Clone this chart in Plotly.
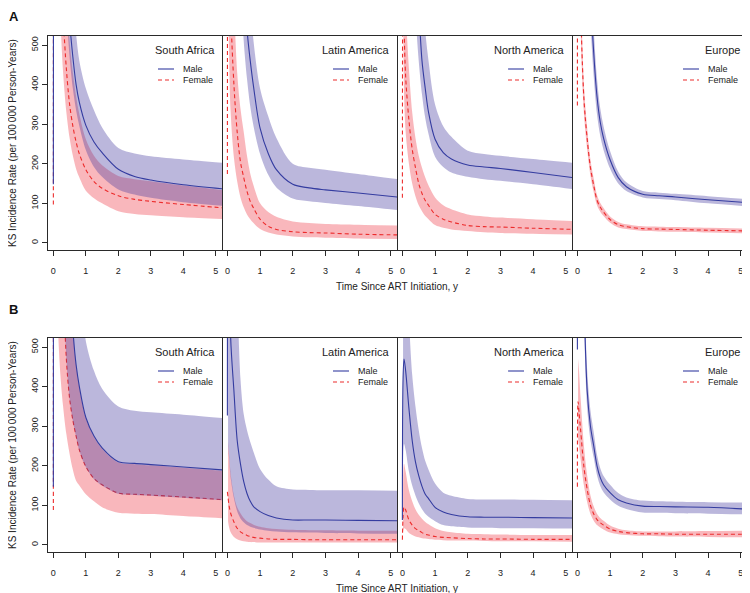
import plotly.graph_objects as go

N = None
T = [0, 0.02, 0.05, 0.1, 0.2, 0.3, 0.4, 0.5, 0.6, 0.7, 0.8, 1.0, 1.25, 1.5, 2.0, 2.5, 3.0, 4.0, 5.3]
REGIONS = ["South Africa", "Latin America", "North America", "Europe"]
X_TICKS = [0, 1, 2, 3, 4, 5]
Y_TICKS = [0, 100, 200, 300, 400, 500]

# ---------------- Panel A ----------------
A_SA_M   = [148, 3000, 2600, 2000, 1300, 900, 700, 560, 470, 400, 355, 297, 255, 228, 186, 168, 159, 147, 136]
A_SA_Mhi = [N, 5000, 4000, 3200, 2000, 1350, 1000, 780, 620, 527, 460, 390, 335, 292, 240, 226, 219, 211, 202]
A_SA_Mlo = [N, 2500, 2000, 1600, 1100, 780, 590, 470, 390, 335, 295, 235, 192, 167, 135, 122, 114, 103, 93]
A_SA_F   = [97, 2500, 2000, 1400, 850, 580, 440, 350, 295, 255, 225, 185, 155, 138, 119, 110, 105, 97, 88]
A_SA_Fhi = [N, 3500, 2800, 2000, 1200, 800, 620, 510, 430, 370, 325, 262, 220, 196, 169, 161, 156, 145, 133]
A_SA_Flo = [N, 1500, 1300, 900, 600, 430, 330, 265, 220, 187, 165, 132, 113, 100, 80, 73, 70, 65, 60]

A_LA_M   = [N, 5000, 4000, 3000, 1800, 1200, 900, 700, 540, 460, 395, 290, 226, 185, 148, 139, 134, 126, 115]
A_LA_Mhi = [N, 7000, 5500, 4000, 2500, 1700, 1250, 950, 730, 610, 510, 390, 320, 265, 200, 190, 185, 174, 160]
A_LA_Mlo = [N, 3500, 2800, 2000, 1300, 900, 680, 510, 415, 345, 295, 225, 172, 140, 112, 105, 101, 93, 82]
A_LA_F   = [174, 2000, 1100, 600, 400, 280, 205, 165, 130, 105, 88, 60, 42, 34, 28, 26, 25, 22, 20]
A_LA_Fhi = [N, 3000, 1800, 1000, 620, 430, 340, 280, 220, 175, 145, 100, 78, 66, 54, 50, 48, 46, 44]
A_LA_Flo = [N, 650, 480, 330, 215, 155, 115, 90, 72, 60, 50, 35, 26, 21, 16, 14, 13, 11, 10]

A_NA_M   = [N, 5000, 4000, 3000, 1700, 1100, 780, 600, 460, 390, 330, 262, 228, 212, 197, 192, 188, 178, 164]
A_NA_Mhi = [N, 7000, 5500, 4000, 2400, 1500, 1080, 820, 660, 535, 460, 350, 295, 268, 233, 225, 220, 212, 202]
A_NA_Mlo = [N, 3500, 2800, 2000, 1100, 760, 580, 460, 375, 315, 275, 218, 192, 178, 167, 161, 157, 148, 135]
A_NA_F   = [114, 1200, 560, 420, 310, 237, 190, 150, 125, 107, 95, 72, 60, 53, 44, 41, 40, 37, 34]
A_NA_Fhi = [N, 2000, 900, 600, 440, 330, 265, 220, 190, 165, 145, 115, 95, 85, 72, 67, 64, 60, 55]
A_NA_Flo = [N, 700, 380, 280, 200, 150, 118, 95, 80, 68, 60, 45, 38, 34, 30, 27, 25, 23, 21]

A_EU_M   = [N, 6000, 4500, 3300, 1600, 1000, 640, 480, 370, 305, 265, 210, 165, 142, 123, 119, 116, 109, 101]
A_EU_Mhi = [N, 6600, 5000, 3700, 1800, 1120, 720, 540, 415, 340, 295, 232, 180, 153, 131, 127, 124, 118, 110]
A_EU_Mlo = [N, 5400, 4000, 2900, 1400, 880, 560, 420, 325, 270, 235, 188, 150, 131, 115, 111, 108, 100, 92]
A_EU_F   = [347, 2500, 1200, 610, 364, 263, 190, 145, 108, 90, 78, 59, 46, 41, 36, 35, 34, 32, 30]
A_EU_Fhi = [N, 2800, 1350, 680, 400, 290, 210, 162, 121, 101, 88, 67, 53, 47, 42, 41, 40, 38, 36]
A_EU_Flo = [N, 2200, 1050, 540, 328, 236, 170, 128, 95, 79, 68, 51, 39, 35, 30, 29, 28, 26, 24]

# ---------------- Panel B ----------------
B_SA_M   = [147, 5000, 4000, 3000, 1800, 1200, 880, 700, 545, 455, 400, 322, 275, 245, 210, 206, 203, 197, 189]
B_SA_Mhi = [N, 8000, 7000, 5500, 3500, 2300, 1650, 1250, 980, 800, 680, 515, 440, 395, 350, 339, 335, 329, 320]
B_SA_Mlo = [N, 3500, 2800, 2000, 1100, 680, 470, 368, 313, 273, 238, 196, 166, 150, 129, 126, 124, 119, 112]
B_SA_F   = [88, 3500, 2800, 2000, 1100, 680, 470, 370, 315, 275, 240, 198, 168, 152, 131, 128, 126, 121, 114]
B_SA_Fhi = [N, 5000, 4000, 3000, 1800, 1200, 880, 700, 545, 455, 398, 320, 273, 243, 208, 204, 201, 195, 187]
B_SA_Flo = [N, 1500, 1000, 650, 450, 350, 280, 230, 190, 162, 150, 128, 110, 95, 81, 79, 78, 73, 67]

B_LA_M   = [327, 2000, 900, 524, 389, 264, 205, 160, 130, 110, 97, 84, 74, 68, 63, 63, 63, 62, 61]
B_LA_Mhi = [N, 5000, 3000, 1800, 1000, 650, 420, 330, 290, 260, 235, 192, 165, 148, 140, 139, 138, 138, 137]
B_LA_Mlo = [N, 250, 220, 170, 118, 85, 67, 57, 50, 46, 43, 39, 36, 34, 32, 31, 30, 29, 28]
B_LA_F   = [134, 120, 100, 80, 58, 42, 33, 28, 24, 21, 19, 17, 15, 14, 14, 13, 13, 13, 13]
B_LA_Fhi = [N, 260, 230, 180, 125, 95, 80, 68, 60, 55, 51, 46, 42, 40, 38, 37, 37, 36, 36]
B_LA_Flo = [N, 60, 45, 32, 20, 14, 11, 9, 8, 7, 7, 6, 6, 6, 6, 6, 6, 6, 6]

B_NA_M   = [63, 420, 470, 440, 345, 264, 210, 175, 148, 128, 117, 95, 83, 77, 71, 70, 70, 69, 68]
B_NA_Mhi = [N, 900, 1100, 950, 580, 430, 350, 290, 245, 212, 190, 155, 132, 124, 116, 115, 115, 114, 113]
B_NA_Mlo = [N, 180, 255, 240, 185, 150, 125, 105, 90, 79, 71, 60, 50, 47, 44, 43, 42, 42, 41]
B_NA_F   = [13, 70, 96, 88, 63, 50, 41, 36, 31, 27, 25, 21, 19, 18, 16, 15, 15, 14, 14]
B_NA_Fhi = [N, 150, 205, 185, 138, 110, 90, 76, 66, 58, 52, 42, 35, 32, 28, 27, 26, 25, 25]
B_NA_Flo = [N, 30, 42, 40, 30, 25, 21, 19, 17, 16, 15, 13, 12, 11, 11, 10, 9, 9, 8]

B_EU_M   = [494, 6000, 3000, 1500, 650, 389, 300, 250, 200, 170, 152, 132, 114, 106, 98, 97, 96, 95, 90]
B_EU_Mhi = [N, 6600, 3300, 1700, 720, 440, 340, 285, 228, 194, 174, 152, 131, 120, 112, 110, 109, 108, 107]
B_EU_Mlo = [N, 5400, 2700, 1350, 580, 345, 265, 220, 176, 149, 133, 115, 99, 91, 82, 81, 80, 79, 77]
B_EU_F   = [147, 362, 335, 289, 197, 140, 100, 78, 64, 56, 50, 40, 34, 31, 28, 28, 27, 27, 27]
B_EU_Fhi = [N, 470, 440, 370, 250, 175, 125, 97, 79, 68, 61, 49, 41, 37, 34, 34, 34, 35, 36]
B_EU_Flo = [N, 270, 250, 215, 150, 108, 78, 61, 50, 44, 39, 31, 27, 25, 23, 22, 21, 20, 19]

PANELS = [
    [(A_SA_M, A_SA_Mhi, A_SA_Mlo, A_SA_F, A_SA_Fhi, A_SA_Flo),
     (A_LA_M, A_LA_Mhi, A_LA_Mlo, A_LA_F, A_LA_Fhi, A_LA_Flo),
     (A_NA_M, A_NA_Mhi, A_NA_Mlo, A_NA_F, A_NA_Fhi, A_NA_Flo),
     (A_EU_M, A_EU_Mhi, A_EU_Mlo, A_EU_F, A_EU_Fhi, A_EU_Flo)],
    [(B_SA_M, B_SA_Mhi, B_SA_Mlo, B_SA_F, B_SA_Fhi, B_SA_Flo),
     (B_LA_M, B_LA_Mhi, B_LA_Mlo, B_LA_F, B_LA_Fhi, B_LA_Flo),
     (B_NA_M, B_NA_Mhi, B_NA_Mlo, B_NA_F, B_NA_Fhi, B_NA_Flo),
     (B_EU_M, B_EU_Mhi, B_EU_Mlo, B_EU_F, B_EU_Fhi, B_EU_Flo)],
]

# ---------------- Styling / geometry ----------------
# the page body adds an 8px margin, so the figure is 8px smaller and all
# reference-pixel positions are mapped through px()/py() below
FONT = "Liberation Sans, Arial, sans-serif"
OFF = 8
W, H = 750 - OFF, 593 - OFF
ML, MR, MT, MB = 48 - OFF, 3, 36 - OFF, 41
PW, PH = W - ML - MR, H - MT - MB
COL_PX = [48, 222, 397, 572, 747]
ROW_PX = [(36, 250), (338, 552)]
X_RANGE = [-0.165, 5.19]
Y_RANGE = [-18, 523]

M_LINE = "rgb(52,60,160)"
F_LINE = "rgb(236,44,44)"
M_BAND = "rgba(70,60,160,0.37)"
F_BAND = "rgba(238,60,72,0.37)"
DASH = "4px,3px"
AX = "#2a2a2a"


def px(xr):
    return (xr - OFF - ML) / PW


def py(yr):
    return (H - MB - (yr - OFF)) / PH


def clean(ts, vs):
    xs, ys = [], []
    for t, v in zip(ts, vs):
        if v is not None:
            xs.append(t)
            ys.append(v)
    return xs, ys


fig = go.Figure()
layout = dict(
    width=W, height=H,
    margin=dict(l=ML, r=MR, t=MT, b=MB),
    paper_bgcolor="white", plot_bgcolor="white",
    showlegend=False,
    font=dict(family=FONT, size=9, color="#222222"),
)
annotations = []
shapes = []

for r in range(2):
    top, bot = ROW_PX[r]
    for c in range(4):
        idx = r * 4 + c + 1
        xn = "x" if idx == 1 else f"x{idx}"
        yn = "y" if idx == 1 else f"y{idx}"
        m, mhi, mlo, f, fhi, flo = PANELS[r][c]

        def add(vals, **kw):
            xs, ys = clean(T, vals)
            fig.add_trace(go.Scatter(x=xs, y=ys, xaxis=xn, yaxis=yn, mode="lines",
                                     hoverinfo="skip", **kw))

        # female band, female line, male band, male line
        add(flo, line=dict(width=0, shape="spline", smoothing=0.9))
        add(fhi, line=dict(width=0, shape="spline", smoothing=0.9), fill="tonexty", fillcolor=F_BAND)
        add(f, line=dict(width=1.1, color=F_LINE, dash=DASH, shape="spline", smoothing=0.9))
        add(mlo, line=dict(width=0, shape="spline", smoothing=0.9))
        add(mhi, line=dict(width=0, shape="spline", smoothing=0.9), fill="tonexty", fillcolor=M_BAND)
        add(m, line=dict(width=1.1, color=M_LINE, shape="spline", smoothing=0.9))

        xa = "xaxis" if idx == 1 else f"xaxis{idx}"
        ya = "yaxis" if idx == 1 else f"yaxis{idx}"
        layout[xa] = dict(
            domain=[px(COL_PX[c]), px(COL_PX[c + 1])], range=X_RANGE, anchor=yn,
            tickmode="array", tickvals=X_TICKS, ticks="outside", ticklen=5, tickwidth=1,
            tickcolor=AX, showline=True, mirror=True, linecolor=AX, linewidth=1,
            showgrid=False, zeroline=False, tickfont=dict(size=9, color="#222222"),
            ticklabelstandoff=7,
        )
        if c == 0:
            layout[ya] = dict(
                domain=[py(bot), py(top)], range=Y_RANGE, anchor=xn,
                tickmode="array", tickvals=Y_TICKS, ticks="outside", ticklen=5, tickwidth=1,
                tickcolor=AX, showticklabels=True, tickangle=-90,
                showline=True, mirror=True, linecolor=AX, linewidth=1,
                showgrid=False, zeroline=False, tickfont=dict(size=9, color="#222222"),
            )
        else:
            # left border is already drawn by the neighbouring panel
            layout[ya] = dict(
                domain=[py(bot), py(top)], range=Y_RANGE, anchor=xn, side="right",
                tickmode="array", tickvals=[], ticks="", showticklabels=False,
                showline=True, mirror=False, linecolor=AX, linewidth=1,
                showgrid=False, zeroline=False,
            )

        # in-panel legend
        R = COL_PX[c + 1]
        annotations.append(dict(x=px(R - 5), y=py(top + 14), xref="paper", yref="paper",
                                text=REGIONS[c], showarrow=False, xanchor="right", yanchor="middle",
                                font=dict(size=11, color="#222222")))
        for k, (lab, col, dsh) in enumerate([("Male", M_LINE, "solid"), ("Female", F_LINE, DASH)]):
            yy = top + 33 + 11 * k
            shapes.append(dict(type="line", xref="paper", yref="paper",
                               x0=px(R - 64), x1=px(R - 48), y0=py(yy), y1=py(yy),
                               line=dict(color=col, width=1.1, dash=dsh)))
            annotations.append(dict(x=px(R - 41), y=py(yy), xref="paper", yref="paper",
                                    text=lab, showarrow=False, xanchor="left", yanchor="middle",
                                    font=dict(size=9, color="#222222")))

    # row titles
    annotations.append(dict(x=px(397), y=py(bot + 36), xref="paper", yref="paper",
                            text="Time Since ART Initiation, y", showarrow=False,
                            xanchor="center", yanchor="middle", font=dict(size=10, color="#222222")))
    annotations.append(dict(x=px(12), y=py((top + bot) / 2), xref="paper", yref="paper",
                            text="KS Incidence Rate (per 100\u2009000 Person-Years)", showarrow=False,
                            textangle=-90, xanchor="center", yanchor="middle",
                            font=dict(size=10, color="#222222")))
    annotations.append(dict(x=px(OFF), y=py(OFF if r == 0 else top - 37), xref="paper", yref="paper",
                            text="<b>" + "AB"[r] + "</b>", showarrow=False, borderpad=0,
                            xanchor="left", yanchor="top", font=dict(size=13, color="#111111")))

layout["annotations"] = annotations
layout["shapes"] = shapes
fig.update_layout(**layout)
fig.write_html("out.html")
